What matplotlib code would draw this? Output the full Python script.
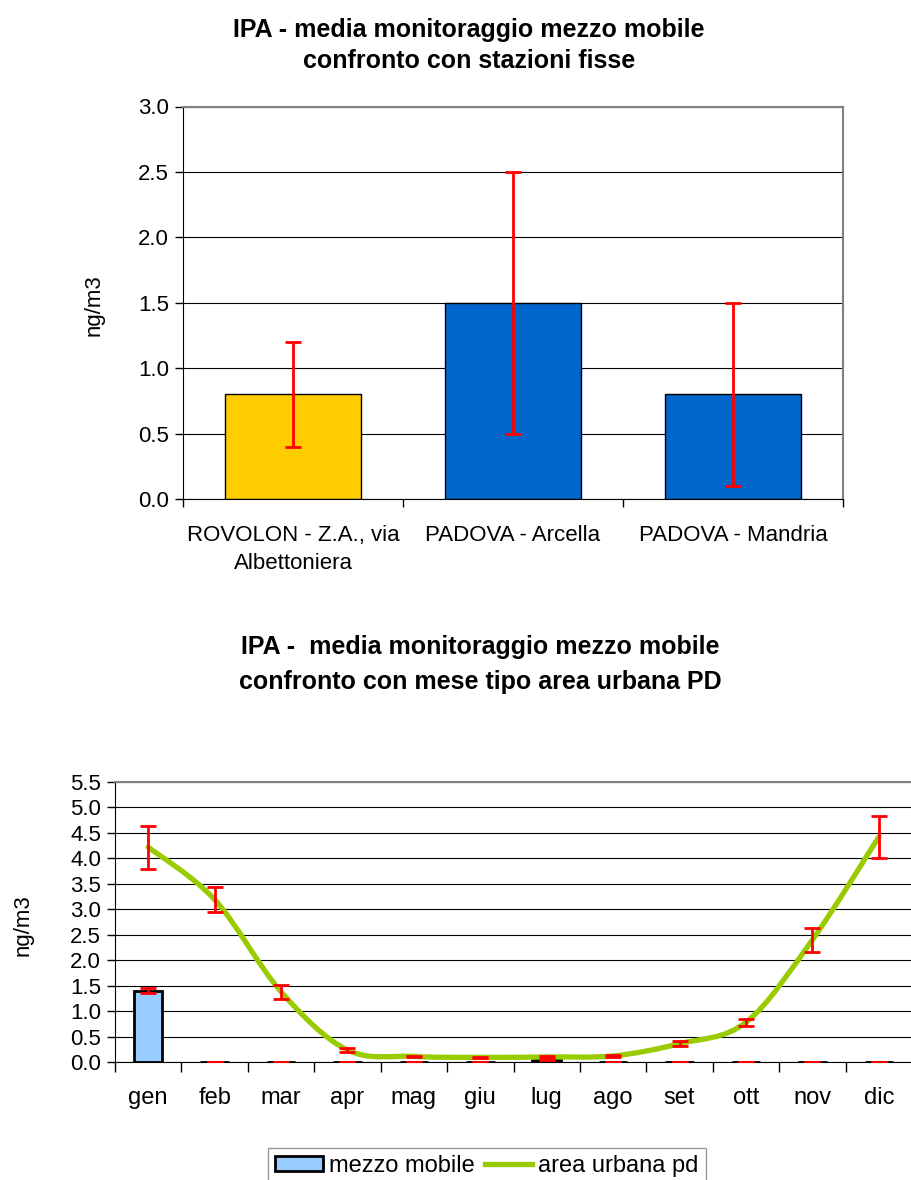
import matplotlib
matplotlib.use("Agg")
from matplotlib import pyplot as plt
from matplotlib.path import Path
from matplotlib.patches import PathPatch, Patch
from matplotlib.lines import Line2D

plt.rcParams['font.family'] = ['Liberation Sans', 'DejaVu Sans']

# top chart data
stations = ["ROVOLON - Z.A., via\nAlbettoniera", "PADOVA - Arcella", "PADOVA - Mandria"]
station_means = [0.8, 1.5, 0.8]
station_err = [0.4, 1.0, 0.7]
station_colors = ["#FFCC00", "#0066CC", "#0066CC"]

# bottom chart data
months = ["gen", "feb", "mar", "apr", "mag", "giu", "lug", "ago", "set", "ott", "nov", "dic"]
mobile = [1.4, 0, 0, 0, 0, 0, 0.03, 0, 0, 0, 0, 0]
mobile_err = [0.045, 0, 0, 0, 0, 0, 0, 0, 0, 0, 0, 0]
urban = [4.22, 3.19, 1.38, 0.235, 0.11, 0.09, 0.1, 0.12, 0.36, 0.78, 2.4, 4.42]
urban_err = [0.42, 0.24, 0.14, 0.035, 0.015, 0.01, 0.015, 0.02, 0.05, 0.07, 0.23, 0.41]

RED = "#FF0000"
GREEN = "#99CC00"
H = 1180.0
W = 912.0

fig = plt.figure(figsize=(9.12, 11.8), dpi=100)

# ---------- top chart ----------
ax1 = fig.add_axes([183 / W, 1 - 499 / H, (843 - 183) / W, (499 - 106.5) / H])
xs = range(len(stations))
ax1.bar(xs, station_means, width=0.62, color=station_colors, edgecolor="black", linewidth=1, zorder=2)
ax1.errorbar(xs, station_means, yerr=station_err, fmt="none", ecolor=RED, elinewidth=2,
             capsize=6, capthick=2, zorder=3)
ax1.set_xlim(-0.5, 2.5)
ax1.set_ylim(0, 3.0)
ax1.set_yticks([0, 0.5, 1.0, 1.5, 2.0, 2.5, 3.0])
ax1.set_yticklabels(["0.0", "0.5", "1.0", "1.5", "2.0", "2.5", "3.0"], fontsize=16)
ax1.set_xticks(list(xs))
ax1.set_xticklabels(stations, fontsize=16, linespacing=1.4)
ax1.tick_params(axis="x", length=0, pad=19)
ax1.set_xticks([-0.5, 0.5, 1.5, 2.5], minor=True)
ax1.tick_params(axis="x", which="minor", length=6, width=1, direction="out")
ax1.tick_params(axis="y", length=6, width=1, direction="out", pad=4)
ax1.yaxis.grid(True, color="black", linewidth=0.8)
ax1.set_axisbelow(True)
for s in ["top", "right"]:
    ax1.spines[s].set_color("#808080")
    ax1.spines[s].set_linewidth(1.5)
ax1.set_ylabel("ng/m3", fontsize=16)
ax1.yaxis.set_label_coords(-0.119, 0.494)
fig.text(469 / W, 1 - 36.5 / H, "IPA - media monitoraggio mezzo mobile",
         ha="center", va="baseline", fontsize=18, fontweight="bold")
fig.text(469 / W, 1 - 68.5 / H, "confronto con stazioni fisse",
         ha="center", va="baseline", fontsize=18, fontweight="bold")

# ---------- bottom chart ----------
ax2 = fig.add_axes([115 / W, 1 - 1062 / H, (W - 115) / W, (1062 - 782) / H])
mx = range(len(months))
ax2.bar(mx, mobile, width=0.43, color="#99CCFF", edgecolor="black", linewidth=2, zorder=2)
ax2.errorbar(mx, mobile, yerr=mobile_err, fmt="none", ecolor=RED, elinewidth=2,
             capsize=5.5, capthick=2, zorder=3)

# smooth line through the monthly values (Bezier segments)
verts = [(0, urban[0])]
codes = [Path.MOVETO]
n = len(urban)
for i in range(n - 1):
    p0 = max(i - 1, 0)
    p3 = min(i + 2, n - 1)
    c1 = (i + (i + 1 - p0) / 6, urban[i] + (urban[i + 1] - urban[p0]) / 6)
    c2 = (i + 1 - (p3 - i) / 6, urban[i + 1] - (urban[p3] - urban[i]) / 6)
    verts += [c1, c2, (i + 1, urban[i + 1])]
    codes += [Path.CURVE4, Path.CURVE4, Path.CURVE4]
ax2.add_patch(PathPatch(Path(verts, codes), fill=False, edgecolor=GREEN, linewidth=3.8,
                        capstyle="round", zorder=4))
ax2.errorbar(mx, urban, yerr=urban_err, fmt="none", ecolor=RED, elinewidth=2,
             capsize=5.5, capthick=2, zorder=5)

ax2.set_xlim(-0.5, 11.5)
ax2.set_ylim(0, 5.5)
yt = [i * 0.5 for i in range(12)]
ax2.set_yticks(yt)
ax2.set_yticklabels([f"{v:.1f}" for v in yt], fontsize=16)
ax2.set_xticks(list(mx))
ax2.set_xticklabels(months, fontsize=17)
ax2.tick_params(axis="x", length=0, pad=18)
ax2.set_xticks([i - 0.5 for i in range(13)], minor=True)
ax2.tick_params(axis="x", which="minor", length=7, width=1, direction="out")
ax2.tick_params(axis="y", length=6, width=1, direction="out", pad=4)
ax2.yaxis.grid(True, color="black", linewidth=0.8)
ax2.set_axisbelow(True)
ax2.spines["right"].set_visible(False)
ax2.spines["top"].set_color("#808080")
ax2.spines["top"].set_linewidth(1.5)
ax2.set_ylabel("ng/m3", fontsize=16)
ax2.yaxis.set_label_coords(-0.102, 0.49)
fig.text(480 / W, 1 - 654 / H, "IPA -  media monitoraggio mezzo mobile",
         ha="center", va="baseline", fontsize=18, fontweight="bold")
fig.text(480 / W, 1 - 689 / H, "confronto con mese tipo area urbana PD",
         ha="center", va="baseline", fontsize=18, fontweight="bold")

handles = [Patch(facecolor="#99CCFF", edgecolor="black", linewidth=2),
           Line2D([0], [0], color=GREEN, linewidth=3.8)]
fig.legend(handles, ["mezzo mobile", "area urbana pd"], loc="upper center",
           bbox_to_anchor=(487 / W, 1 - 1148 / H), ncol=2, fontsize=17, frameon=True,
           fancybox=False, edgecolor="#808080", handlelength=2.0, handleheight=0.6,
           handletextpad=0.25, columnspacing=0.45, borderpad=0.3, borderaxespad=0)

fig.savefig("out.png", dpi=100)
